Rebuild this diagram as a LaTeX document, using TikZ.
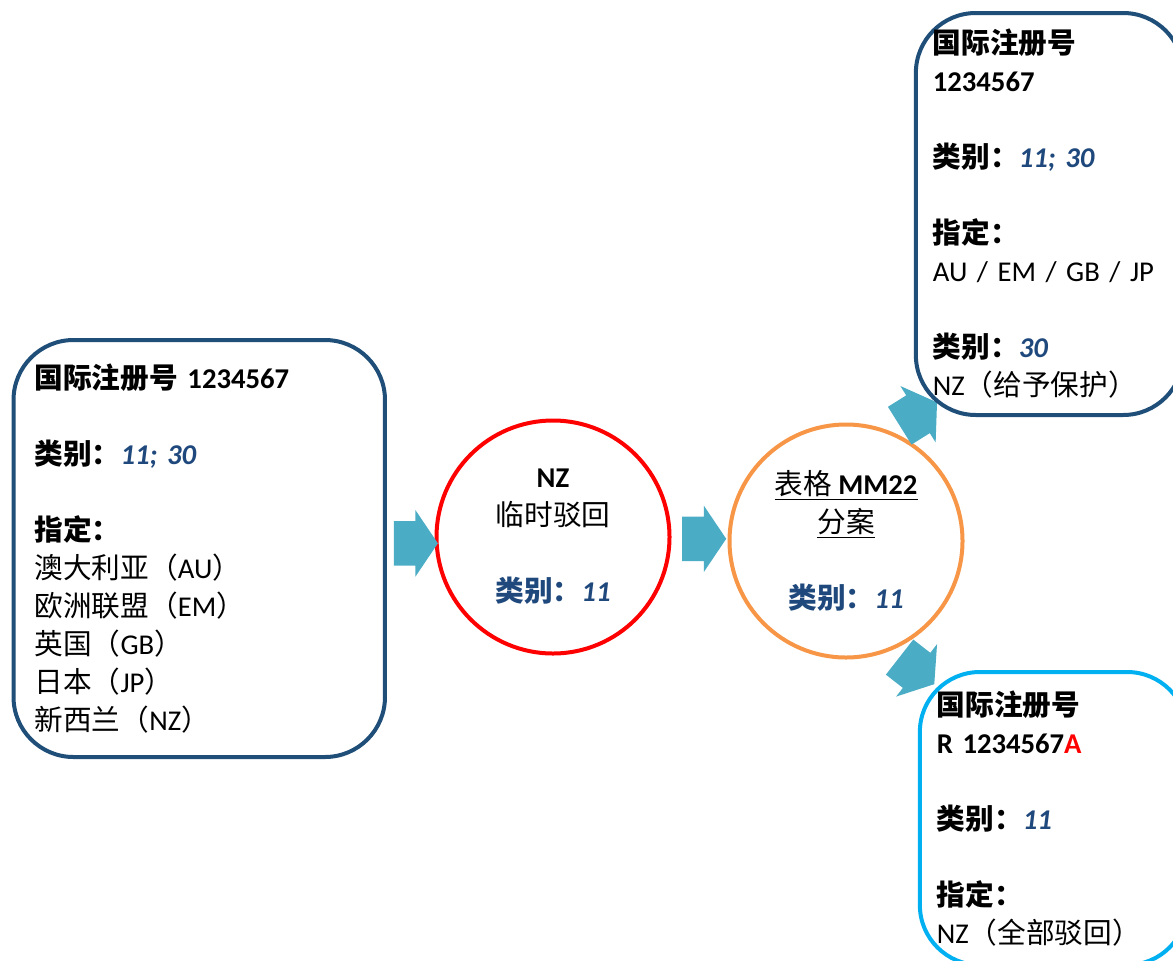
\documentclass[tikz,border=0pt]{standalone}
\usepackage{fontspec}
\usepackage{xcolor}
\usetikzlibrary{shapes.arrows,calc}
\setmainfont{Carlito}[BoldItalicFont={Carlito Bold Italic}]
\newfontfamily\cjk{Noto Sans CJK SC}
\newcommand{\zh}[1]{{\cjk #1}}

\definecolor{boxblue}{RGB}{31,78,121}
\definecolor{txtblue}{RGB}{31,73,125}
\definecolor{arrowblue}{RGB}{75,172,198}
\definecolor{ringorange}{RGB}{247,150,70}
\definecolor{lightblue}{RGB}{0,176,240}

\newcommand{\nr}[1]{{\color{txtblue}\bfseries\itshape #1}}

\tikzset{
  every node/.style={font=\fontsize{21.5pt}{28.5pt}\selectfont},
  regbox/.style={draw=boxblue, line width=3pt, rounded corners=45pt, fill=white, align=left},
  ring/.style={circle, line width=3pt, fill=white, align=center, minimum size=174.75pt, inner sep=0pt},
  flowarrow/.style={single arrow, fill=arrowblue, draw=none, minimum height=33pt,
    inner xsep=0pt, inner ysep=16.5pt, single arrow head extend=8.25pt, single arrow tip angle=112}
}

\begin{document}
\begin{tikzpicture}[x=0.75pt,y=-0.75pt]
\useasboundingbox (0,0) rectangle (1173,960);
\clip (0,0) rectangle (1173,960);

% original registration
\node[regbox, minimum width=278.6pt, minimum height=312.75pt, inner xsep=15.75pt, text width=247pt] (reg) at (199.25,548.5)
  {\textbf{\zh{国际注册号} 1234567}\\[28.5pt]
   \textbf{\zh{类别：}}\nr{11; 30}\\[28.5pt]
   \textbf{\zh{指定：}}\\
   \zh{澳大利亚（}AU\zh{）}\\
   \zh{欧洲联盟（}EM\zh{）}\\
   \zh{英国（}GB\zh{）}\\
   \zh{日本（}JP\zh{）}\\
   \zh{新西兰（}NZ\zh{）}};

% the two steps
\node[ring, draw=red] (nz) at (553,537)
  {\textbf{NZ}\\ \zh{临时驳回}\\[28.5pt] {\color{txtblue}\textbf{\zh{类别：}}}\nr{11}};
\node[ring, draw=ringorange] (mm22) at (846,541)
  {\underline{\zh{表格} \textbf{MM22}}\\ \underline{\zh{分案}}\\[28.5pt] {\color{txtblue}\textbf{\zh{类别：}}}\nr{11}};

\node[flowarrow] (a1) at ($(reg.east)!0.45!(nz.west)$) {};
\node[flowarrow] (a2) at ($(nz.east)!0.45!(mm22.west)$) {};
\node[flowarrow, rotate=32] (a3) at (912,418) {};
\node[flowarrow, rotate=-38] (a4) at (911,666) {};

% after the division
\node[regbox, minimum width=200.25pt, minimum height=301.5pt, inner xsep=12.75pt, text width=175pt] (kept) at (1049.5,214)
  {\textbf{\zh{国际注册号}}\\
   \textbf{1234567}\\[28.5pt]
   \textbf{\zh{类别：}}\nr{11; 30}\\[28.5pt]
   \textbf{\zh{指定：}}\\
   AU / EM / GB / JP\\[28.5pt]
   \textbf{\zh{类别：}}\nr{30}\\
   NZ\zh{（给予保护）}};
\node[regbox, draw=lightblue, minimum width=200.25pt, minimum height=219.75pt, inner xsep=12.75pt, text width=175pt] (divided) at (1053.5,818.5)
  {\textbf{\zh{国际注册号}}\\
   \textbf{R 1234567{\color{red}A}}\\[28.5pt]
   \textbf{\zh{类别：}}\nr{11}\\[28.5pt]
   \textbf{\zh{指定：}}\\
   NZ\zh{（全部驳回）}};

\end{tikzpicture}
\end{document}
